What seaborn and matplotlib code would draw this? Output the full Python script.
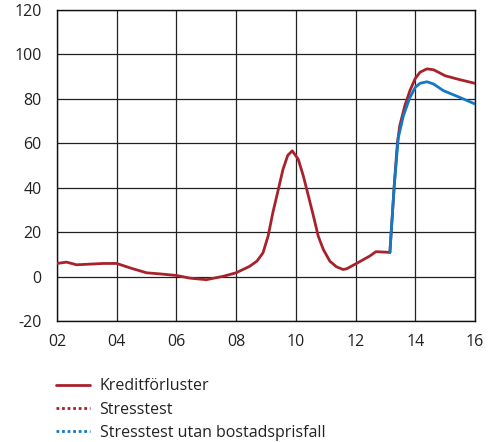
import matplotlib
matplotlib.use("Agg")
import matplotlib.pyplot as plt
from matplotlib.lines import Line2D
import seaborn as sns
import pandas as pd

# Credit losses, outcome (billions SEK, rolling four quarters)
kredit_year = [2002.0, 2002.32, 2002.66, 2003.1, 2003.55, 2004.0, 2004.45, 2005.0,
               2005.45, 2006.0, 2006.45, 2007.0, 2007.56, 2008.0, 2008.45, 2008.7,
               2008.9, 2009.07, 2009.23, 2009.4, 2009.57, 2009.73, 2009.88, 2010.08,
               2010.25, 2010.42, 2010.59, 2010.75, 2010.92, 2011.14, 2011.36, 2011.58,
               2011.7, 2012.03, 2012.47, 2012.68, 2013.15]
kredit_val = [5.9, 6.5, 5.3, 5.6, 5.9, 5.9, 3.9, 1.7,
              1.2, 0.5, -0.7, -1.4, 0.1, 1.7, 4.6, 7.0,
              10.7, 18.2, 28.8, 38.5, 48.3, 54.6, 56.6, 52.8,
              45.3, 36.3, 27.2, 18.2, 12.2, 6.9, 4.4, 3.2,
              3.5, 5.9, 9.2, 11.2, 10.9]

# Stress test scenarios
stress_year = [2013.15, 2013.3, 2013.4, 2013.48, 2013.65, 2013.82, 2014.0, 2014.16,
               2014.39, 2014.61, 2014.83, 2015.0, 2015.5, 2016.0]
stress_val = [10.9, 42.0, 60.0, 67.9, 76.9, 83.7, 89.2, 92.0,
              93.5, 93.1, 91.6, 90.4, 88.6, 87.0]

utan_year = [2013.15, 2013.29, 2013.43, 2013.6, 2013.82, 2014.0, 2014.16, 2014.39,
             2014.61, 2014.94, 2015.5, 2016.0]
utan_val = [10.9, 40.0, 62.5, 72.3, 80.6, 85.2, 87.0, 87.7,
            86.7, 83.7, 80.6, 77.7]

x_ticks = [2002, 2004, 2006, 2008, 2010, 2012, 2014, 2016]
x_labels = ["02", "04", "06", "08", "10", "12", "14", "16"]
y_ticks = [-20, 0, 20, 40, 60, 80, 100, 120]

labels = ["Kreditförluster", "Stresstest", "Stresstest utan bostadsprisfall"]
RED = "#A8222B"
BLUE = "#1479C4"

sns.set_style("white")
plt.rcParams["font.family"] = ["Open Sans", "DejaVu Sans"]
plt.rcParams["axes.unicode_minus"] = False

fig = plt.figure(figsize=(4.97, 4.42), dpi=100)
ax = fig.add_axes([57 / 497, 1 - 321 / 442, (475 - 57) / 497, (321 - 10) / 442])

df_k = pd.DataFrame({"year": kredit_year, "value": kredit_val})
df_s = pd.DataFrame({"year": stress_year, "value": stress_val})
df_u = pd.DataFrame({"year": utan_year, "value": utan_val})

line_kw = dict(lw=2.0, solid_joinstyle="round", solid_capstyle="round")
sns.lineplot(data=df_s, x="year", y="value", ax=ax, color=RED, zorder=3, **line_kw)
sns.lineplot(data=df_u, x="year", y="value", ax=ax, color=BLUE, zorder=4, **line_kw)
sns.lineplot(data=df_k, x="year", y="value", ax=ax, color=RED, zorder=3, **line_kw)

ax.set_xlim(2002, 2016)
ax.set_ylim(-20, 120)
ax.set_xticks(x_ticks)
ax.set_xticklabels(x_labels)
ax.set_yticks(y_ticks)
ax.set_xlabel("")
ax.set_ylabel("")
ax.grid(True, color="#222222", lw=0.9)
ax.set_axisbelow(True)
for s in ax.spines.values():
    s.set_color("#111111")
    s.set_linewidth(1.0)
ax.tick_params(axis="both", length=0, labelsize=11.5, colors="#222222")
ax.tick_params(axis="y", pad=11)
ax.tick_params(axis="x", pad=9)

handles = [
    Line2D([], [], color=RED, lw=2.0),
    Line2D([], [], color=RED, lw=2.0, ls=(0, (1, 1))),
    Line2D([], [], color=BLUE, lw=2.0, ls=(0, (1, 1))),
]
fig.legend(handles, labels, loc="upper left", bbox_to_anchor=(50 / 497, 1 - 372 / 442),
           frameon=False, fontsize=11.5, handlelength=2.1, handletextpad=0.6,
           labelspacing=0.45, borderaxespad=0, labelcolor="#222222")

fig.savefig("out.png", dpi=100)
